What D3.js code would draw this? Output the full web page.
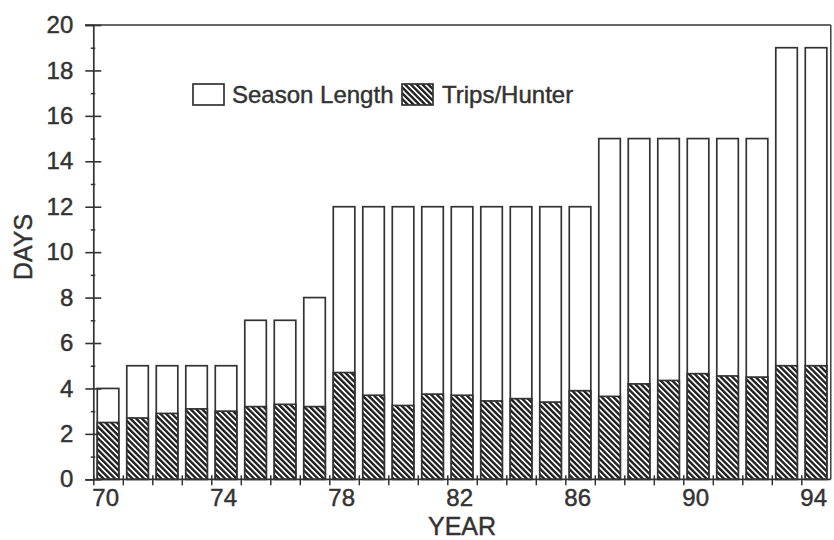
<!DOCTYPE html>
<html>
<head>
<meta charset="utf-8">
<script src="https://cdn.jsdelivr.net/npm/d3@7"></script>
<style>
  html, body { margin: 0; padding: 0; background: #fff; }
  svg { display: block; }
  text { font-family: "Liberation Sans", Arial, sans-serif; fill: #333; stroke: #333; stroke-width: 0.45px; }
</style>
</head>
<body>
<div id="chart"></div>
<script>
// ---- data ----
const years = [70,71,72,73,74,75,76,77,78,79,80,81,82,83,84,85,86,87,88,89,90,91,92,93,94];
const seasonLength = [4,5,5,5,5,7,7,8,12,12,12,12,12,12,12,12,12,15,15,15,15,15,15,19,19];
const tripsPerHunter = [2.5,2.7,2.9,3.1,3.0,3.2,3.3,3.2,4.7,3.7,3.25,3.75,3.7,3.45,3.55,3.4,3.9,3.65,4.2,4.35,4.65,4.55,4.5,5.0,5.0];
const yTickValues = [0,2,4,6,8,10,12,14,16,18,20];
const yMinorValues = [1,3,5,7,9,11,13,15,17,19];
const xLabelYears = [70,74,78,82,86,90,94];
const legendLabels = ["Season Length", "Trips/Hunter"];
const axisTitles = { x: "YEAR", y: "DAYS" };

const W = 834, H = 540;
const ink = "#333";
const plotL = 93.3, plotR = 830.8, plotT = 25, plotB = 479.3;

const svg = d3.select("#chart").append("svg").attr("width", W).attr("height", H);

// hatch pattern "\\\\"
const defs = svg.append("defs");
const pat = defs.append("pattern")
  .attr("id", "hatch").attr("patternUnits", "userSpaceOnUse")
  .attr("width", 4.1).attr("height", 8)
  .attr("patternTransform", "rotate(-45)");
pat.append("rect").attr("width", 4.1).attr("height", 8).attr("fill", "#fff");
pat.append("line").attr("x1", 1.2).attr("y1", 0).attr("x2", 1.2).attr("y2", 8)
  .attr("stroke", "#222").attr("stroke-width", 2.4);

const x = d3.scaleBand().domain(years).range([plotL, plotR]).paddingInner(0.27).paddingOuter(0.135);
const y = d3.scaleLinear().domain([0, 20]).range([plotB, plotT]);

const halfGap = (x.step() - x.bandwidth()) / 2;
const boundary = d => x(d) - halfGap;

// bars: season length (white)
svg.append("g").selectAll("rect").data(years).join("rect")
  .attr("x", d => x(d)).attr("width", x.bandwidth())
  .attr("y", (d, i) => y(seasonLength[i]))
  .attr("height", (d, i) => y(0) - y(seasonLength[i]))
  .attr("fill", "#fff").attr("stroke", ink).attr("stroke-width", 1.7);

// bars: trips/hunter (hatched)
svg.append("g").selectAll("rect").data(years).join("rect")
  .attr("x", d => x(d)).attr("width", x.bandwidth())
  .attr("y", (d, i) => y(tripsPerHunter[i]))
  .attr("height", (d, i) => y(0) - y(tripsPerHunter[i]))
  .attr("fill", "url(#hatch)").attr("stroke", ink).attr("stroke-width", 1.7);

// frame top & right
svg.append("line").attr("x1", 85).attr("x2", plotR).attr("y1", y(20)).attr("y2", y(20))
  .attr("stroke", ink).attr("stroke-width", 1.4);
svg.append("line").attr("x1", plotR).attr("x2", plotR).attr("y1", y(20)).attr("y2", y(0))
  .attr("stroke", ink).attr("stroke-width", 1.4);

// y axis
const yAxis = svg.append("g").attr("transform", `translate(${plotL},0)`)
  .call(d3.axisLeft(y).tickValues(yTickValues).tickSize(8).tickPadding(12));
yAxis.select(".domain").attr("stroke", ink).attr("stroke-width", 1.7);
yAxis.selectAll(".tick line").attr("x1", 8).attr("x2", -8).attr("stroke", ink).attr("stroke-width", 1.6);
yAxis.selectAll(".tick text").attr("font-size", 24).attr("font-family", "Liberation Sans, Arial, sans-serif").attr("fill", "#333");
const yMinor = svg.append("g").attr("transform", `translate(${plotL},0)`)
  .call(d3.axisLeft(y).tickValues(yMinorValues).tickSize(3).tickFormat(""));
yMinor.select(".domain").remove();
yMinor.selectAll(".tick line").attr("x1", 2).attr("x2", -2.5).attr("stroke", ink).attr("stroke-width", 1.5);

// x axis (ticks at category boundaries)
const bounds = years.map(boundary).concat([boundary(years[years.length - 1]) + x.step()]);
const xb = d3.scaleLinear().domain([0, years.length]).range([bounds[0], bounds[bounds.length - 1]]);
const xAxis = svg.append("g").attr("transform", `translate(0,${plotB})`)
  .call(d3.axisBottom(xb).tickValues(d3.range(0, years.length)).tickSize(6).tickFormat(""));
xAxis.select(".domain").attr("stroke", ink).attr("stroke-width", 1.7).attr("d", `M${plotL},0H${plotR}`);
xAxis.selectAll(".tick line").attr("y1", -4).attr("y2", 6).attr("stroke", ink).attr("stroke-width", 1.5);

svg.append("g").selectAll("text").data(xLabelYears).join("text")
  .attr("x", d => boundary(d) - 1).attr("y", 506)
  .attr("text-anchor", "start").attr("font-size", 24).text(d => d);

// axis titles
svg.append("text").attr("x", 462).attr("y", 535).attr("text-anchor", "middle")
  .attr("font-size", 25).text(axisTitles.x);
svg.append("text").attr("transform", "translate(32,247) rotate(-90)").attr("text-anchor", "middle")
  .attr("font-size", 25).text(axisTitles.y);

// legend
const lg = svg.append("g");
lg.append("rect").attr("x", 193).attr("y", 84).attr("width", 31).attr("height", 21)
  .attr("fill", "#fff").attr("stroke", ink).attr("stroke-width", 1.7);
lg.append("text").attr("x", 232).attr("y", 103).attr("font-size", 24).text(legendLabels[0]);
lg.append("rect").attr("x", 402).attr("y", 84).attr("width", 31).attr("height", 21)
  .attr("fill", "url(#hatch)").attr("stroke", ink).attr("stroke-width", 1.7);
lg.append("text").attr("x", 442).attr("y", 103).attr("font-size", 24).text(legendLabels[1]);
</script>
</body>
</html>
